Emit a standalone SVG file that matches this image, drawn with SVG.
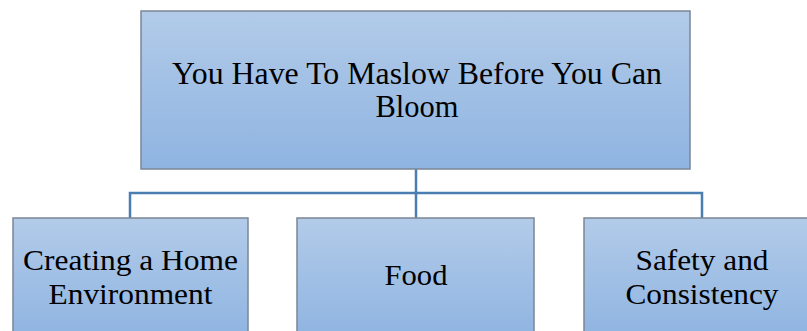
<svg xmlns="http://www.w3.org/2000/svg" width="807" height="331" viewBox="0 0 807 331">
  <defs>
    <linearGradient id="boxFill" x1="0" y1="0" x2="0" y2="1">
      <stop offset="0" stop-color="#b2cbe9"/>
      <stop offset="1" stop-color="#8fb4e1"/>
    </linearGradient>
    <style>
      .box { fill: url(#boxFill); stroke: #7b8794; stroke-width: 1.5; }
      .label { font-family: "Liberation Serif", "Times New Roman", serif; fill: #000; text-anchor: middle; }
      .top { font-size: 31px; }
      .child { font-size: 29.3px; }
      .link { fill: none; stroke: #4a7db0; stroke-width: 2.5; }
    </style>
  </defs>
  <rect width="807" height="331" fill="#ffffff"/>

  <g id="connectors">
    <path class="link" d="M416 169 V218"/>
    <path class="link" d="M130 218 V193 H702 V218"/>
  </g>

  <g id="root">
    <rect class="box" x="141" y="11" width="549" height="158"/>
    <text class="label top" x="417" y="84" textLength="490" lengthAdjust="spacingAndGlyphs">You Have To Maslow Before You Can</text>
    <text class="label top" x="417" y="117" textLength="83" lengthAdjust="spacingAndGlyphs">Bloom</text>
  </g>

  <g id="home">
    <rect class="box" x="13" y="218" width="235" height="120"/>
    <text class="label child" x="130.5" y="270" textLength="215" lengthAdjust="spacingAndGlyphs">Creating a Home</text>
    <text class="label child" x="130.5" y="304" textLength="164" lengthAdjust="spacingAndGlyphs">Environment</text>
  </g>

  <g id="food">
    <rect class="box" x="297" y="218" width="237" height="120"/>
    <text class="label child" x="416" y="285" textLength="63" lengthAdjust="spacingAndGlyphs">Food</text>
  </g>

  <g id="safety">
    <rect class="box" x="584" y="218" width="237" height="120"/>
    <text class="label child" x="702" y="270" textLength="133" lengthAdjust="spacingAndGlyphs">Safety and</text>
    <text class="label child" x="702" y="304" textLength="153" lengthAdjust="spacingAndGlyphs">Consistency</text>
  </g>
</svg>
